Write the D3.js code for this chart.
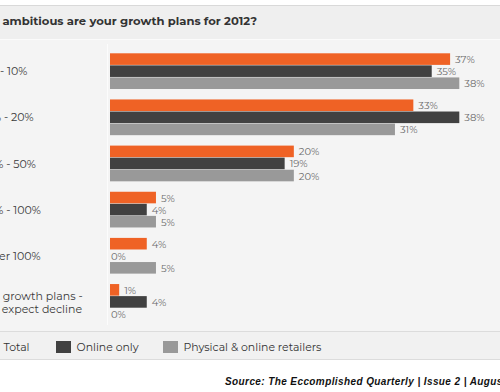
<!DOCTYPE html>
<html><head><meta charset="utf-8">
<script src="https://cdn.jsdelivr.net/npm/d3@7"></script>
<style>
html,body{margin:0;padding:0;background:#fff;overflow:hidden}
svg{display:block}
</style></head>
<body>
<script>
const title = "How ambitious are your growth plans for 2012?";
const categories = [["1% - 10%"], ["11% - 20%"], ["21% - 50%"], ["51% - 100%"], ["Over 100%"], ["No growth plans -", "expect decline"]];
const series = ["Total", "Online only", "Physical & online retailers"];
const colors = ["#ef6225", "#414141", "#999999"];
const total = [37, 33, 20, 5, 4, 1];
const onlineOnly = [35, 38, 19, 4, 0, 4];
const physicalOnline = [38, 31, 20, 5, 5, 0];
const source = "Source: The Eccomplished Quarterly | Issue 2 | August 2012";

const values = [total, onlineOnly, physicalOnline];
const W = 500, H = 392;
const svg = d3.select("body").append("svg").attr("width", W).attr("height", H);
const font = "Montserrat, Lato, 'Open Sans', sans-serif";

// panels
svg.append("rect").attr("x",0).attr("y",6).attr("width",W).attr("height",33).attr("fill","#efefef");
svg.append("line").attr("x1",0).attr("x2",W).attr("y1",5.5).attr("y2",5.5).attr("stroke","#d9d9d9");
svg.append("rect").attr("x",0).attr("y",40).attr("width",W).attr("height",291).attr("fill","#f4f4f4");
svg.append("line").attr("x1",0).attr("x2",W).attr("y1",39.5).attr("y2",39.5).attr("stroke","#fbfbfb");
svg.append("rect").attr("x",0).attr("y",332).attr("width",W).attr("height",27).attr("fill","#f1f1f1");
svg.append("line").attr("x1",0).attr("x2",W).attr("y1",331.5).attr("y2",331.5).attr("stroke","#dcdcdc");
svg.append("line").attr("x1",0).attr("x2",W).attr("y1",359.5).attr("y2",359.5).attr("stroke","#dcdcdc");

// title
svg.append("text").attr("x",257).attr("y",24.5).attr("text-anchor","end")
  .attr("font-family",font).attr("font-weight","bold").attr("font-size",11.6)
  .attr("fill","#333").text(title);

const x = d3.scaleLinear().domain([0, 38]).range([110, 459.3]);
const step = 46.15, pi = 0.226;
const y = d3.scaleBand().domain(d3.range(categories.length))
  .range([53.3, 53.3 + step * (categories.length - pi)]).paddingInner(pi).paddingOuter(0);
const yi = d3.scaleBand().domain(d3.range(series.length)).range([0, y.bandwidth()]).paddingInner(0.04);

// faint axis line
svg.append("line").attr("x1",107.5).attr("x2",107.5).attr("y1",44).attr("y2",325)
  .attr("stroke","#fcfcfc").attr("stroke-width",1);

const labelX = -16, labelSize = 11;
// width of "No " prefix, used to indent the continuation line
const tmp = svg.append("text").attr("font-family", font).attr("font-size", labelSize).text("No ");
const indent = tmp.node().getComputedTextLength() + 2;
tmp.remove();

const g = svg.selectAll("g.grp").data(categories).join("g").attr("class","grp")
  .attr("transform",(d,i)=>`translate(0,${y(i)})`);

g.each(function(cat, i){
  const gg = d3.select(this);
  series.forEach((s, j) => {
    const v = values[j][i];
    gg.append("rect").attr("x", x(0)).attr("y", yi(j))
      .attr("width", x(v) - x(0)).attr("height", yi.bandwidth()).attr("fill", colors[j]);
    gg.append("text").attr("x", v > 0 ? x(v) + 5 : x(0) + 1).attr("y", yi(j) + yi.bandwidth()/2 + 4)
      .attr("font-family", font).attr("font-size", 10).attr("fill", "#6a6a6a").text(v + "%");
  });
  const lines = cat;
  const cy = y.bandwidth()/2;
  lines.forEach((ln, k) => {
    gg.append("text").attr("x", labelX + (k > 0 ? indent : 0))
      .attr("y", cy + (k - (lines.length-1)/2) * 13 + 4.2)
      .attr("font-family", font).attr("font-size", labelSize).attr("fill", "#3a3a3a").text(ln);
  });
});

// legend
const legX = [-17, 56, 163];
const lg = svg.selectAll("g.leg").data(series).join("g").attr("class","leg")
  .attr("transform",(d,i)=>`translate(${legX[i]},341)`);
lg.append("rect").attr("width",15).attr("height",12).attr("fill",(d,i)=>colors[i]);
lg.append("text").attr("x",20.5).attr("y",10.2).attr("font-family",font).attr("font-size",10.9)
  .attr("fill","#333").text(d=>d);

// source
svg.append("text").attr("x",225).attr("y",384.5).attr("font-family","'Liberation Sans', Arial, sans-serif")
  .attr("font-style","italic").attr("font-weight","bold").attr("font-size",10).attr("letter-spacing",0.4)
  .attr("fill","#111").text(source);
</script>
</body></html>
